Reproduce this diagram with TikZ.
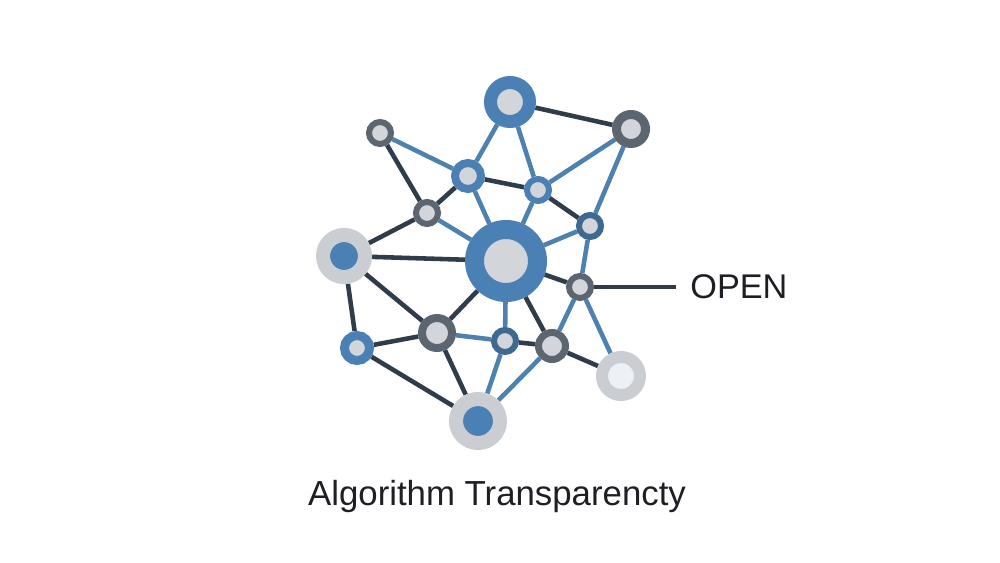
\documentclass[tikz,border=0pt]{standalone}
\usepackage{fontspec}
\setmainfont{Liberation Sans}
\usepackage{tikz}
\usetikzlibrary{backgrounds}
\definecolor{netBlue}{HTML}{4A80B4}
\definecolor{netDeep}{HTML}{3E6990}
\definecolor{netSlate}{HTML}{5C6670}
\definecolor{netPale}{HTML}{D2D5DA}
\definecolor{netMist}{HTML}{CACDD2}
\definecolor{netCore}{HTML}{EDF0F4}
\definecolor{netInk}{HTML}{2F3D4A}
\definecolor{netWire}{HTML}{4F81AE}
\definecolor{netText}{HTML}{1E1F24}
\tikzset{
  hubnode/.style={circle, inner sep=0pt, fill=netPale, draw=netBlue},
  bluenode/.style={circle, inner sep=0pt, fill=netPale, draw=netBlue},
  deepnode/.style={circle, inner sep=0pt, fill=netPale, draw=netDeep},
  slatenode/.style={circle, inner sep=0pt, fill=netPale, draw=netSlate},
  palenode/.style={circle, inner sep=0pt, fill=netBlue, draw=netMist},
  ghostnode/.style={circle, inner sep=0pt, fill=netCore, draw=netMist},
  darkwire/.style={draw=netInk, line width=2.6pt},
  bluewire/.style={draw=netWire, line width=2.6pt},
  label/.style={font=\fontsize{19.5}{23}\selectfont, text=netText, inner sep=0pt}
}

\begin{document}
\begin{tikzpicture}[x=1cm,y=1cm]
  \useasboundingbox (0,0) rectangle (20,-11.26);

  % nodes (1px = 0.02cm)
  \node[bluenode, minimum size=0.78cm, line width=0.26cm] (top) at (10.20,-2.04) {};
  \node[slatenode, minimum size=0.58cm, line width=0.18cm] (topright) at (12.62,-2.58) {};
  \node[slatenode, minimum size=0.44cm, line width=0.12cm] (topleft) at (7.60,-2.66) {};
  \node[bluenode, minimum size=0.52cm, line width=0.16cm] (upmid) at (9.36,-3.52) {};
  \node[bluenode, minimum size=0.44cm, line width=0.12cm] (upright) at (10.76,-3.80) {};
  \node[slatenode, minimum size=0.44cm, line width=0.12cm] (upleft) at (8.54,-4.26) {};
  \node[deepnode, minimum size=0.44cm, line width=0.12cm] (sideright) at (11.80,-4.52) {};
  \node[hubnode, minimum size=1.26cm, line width=0.38cm] (hub) at (10.12,-5.22) {};
  \node[palenode, minimum size=0.84cm, line width=0.28cm] (bigleft) at (6.88,-5.12) {};
  \node[slatenode, minimum size=0.44cm, line width=0.12cm] (openhub) at (11.60,-5.74) {};
  \node[bluenode, minimum size=0.50cm, line width=0.18cm] (lowleft) at (7.14,-6.96) {};
  \node[slatenode, minimum size=0.60cm, line width=0.16cm] (lowmid) at (8.74,-6.66) {};
  \node[deepnode, minimum size=0.44cm, line width=0.12cm] (lowcen) at (10.10,-6.82) {};
  \node[slatenode, minimum size=0.54cm, line width=0.14cm] (lowright) at (11.04,-6.92) {};
  \node[ghostnode, minimum size=0.76cm, line width=0.24cm] (farright) at (12.42,-7.52) {};
  \node[palenode, minimum size=0.88cm, line width=0.28cm] (bottom) at (9.56,-8.42) {};

  \coordinate (openend) at (13.52,-5.74);
  \node[label, anchor=west] (open) at (13.80,-5.74) {OPEN};
  \node[label, font=\fontsize{19.8}{23}\selectfont] (title) at (9.94,-9.94) {Algorithm Transparencty};

  \begin{scope}[on background layer]
    \foreach \a/\b in {top/topright, topleft/upleft, upleft/upmid, upmid/upright,
      upright/sideright, upleft/bigleft, bigleft/hub, hub/openhub, openhub/openend,
      bigleft/lowleft, bigleft/lowmid, lowleft/lowmid, lowleft/bottom, hub/lowmid,
      hub/lowright, lowcen/lowright, lowmid/bottom, lowright/farright}
      \draw[darkwire] (\a) -- (\b);
    \foreach \a/\b in {top/upmid, top/upright, topleft/upmid, upright/topright,
      topright/sideright, upmid/hub, upright/hub, upleft/hub, sideright/hub,
      sideright/openhub, hub/lowcen, lowmid/lowcen, lowcen/bottom, lowright/bottom,
      openhub/lowright, openhub/farright}
      \draw[bluewire] (\a) -- (\b);
  \end{scope}
\end{tikzpicture}
\end{document}
